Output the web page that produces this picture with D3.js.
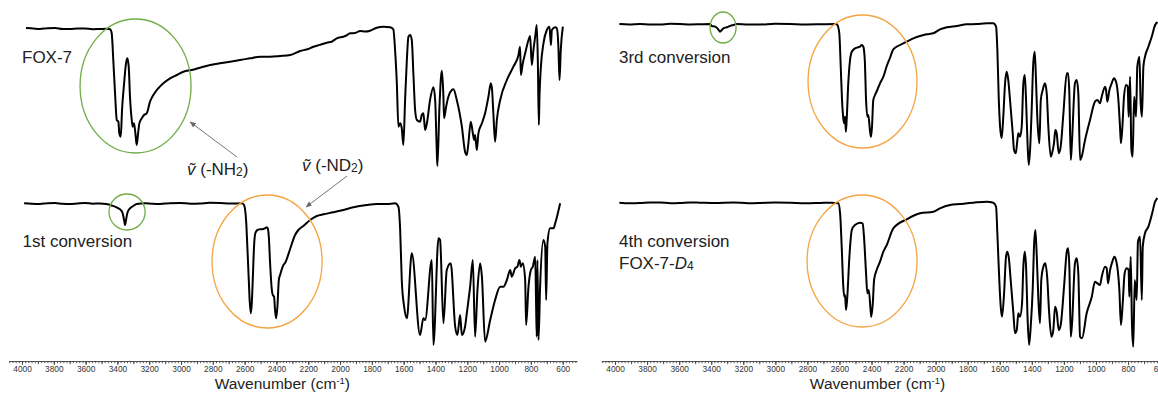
<!DOCTYPE html>
<html>
<head>
<meta charset="utf-8">
<script src="https://cdn.jsdelivr.net/npm/d3@7"></script>
<style>
  body { margin: 0; background: #fff; }
  svg { display: block; font-family: "Liberation Sans", Arial, sans-serif; }
</style>
</head>
<body>
<div id="chart"></div>
<script>
// IR spectra of FOX-7 and its deuterated conversions
// each point: [wavenumber (cm-1), transmittance (a.u.)]

var fox7 = [[3975,142],[3930,141.5],[3887,141],[3840,141.8],[3792,142],[3745,141],[3698,141],[3650,141.6],[3604,141.5],[3556,140.8],[3509,141],[3470,141.2],[3446,140.7],[3436,136.7],[3426,110],[3415,76.7],[3404,50],[3394,48.3],[3388,36.7],[3379,33.3],[3371,60],[3358,86.7],[3346,106.7],[3338,111.7],[3329,103.3],[3321,73.3],[3310,50],[3304,43.3],[3296,46.7],[3287,36.7],[3279,25],[3270,36.7],[3262,46.7],[3247,51.7],[3233,55],[3216,56.7],[3195,68.3],[3174,75],[3143,81.7],[3111,86.7],[3069,91.7],[3027,95],[2985,98.3],[2933,100],[2880,102.3],[2817,105],[2755,106.7],[2692,108.3],[2629,110],[2566,111.7],[2503,113.3],[2440,113.3],[2377,114],[2314,115],[2251,119],[2200,121],[2168,123.3],[2140,124.5],[2120,125.5],[2083,127.3],[2050,128.5],[2021,131.7],[1979,133.3],[1960,134.5],[1937,136.7],[1905,137],[1874,139],[1840,138.5],[1811,139.3],[1769,142.3],[1727,143.3],[1685,142.7],[1665,140.7],[1654,120],[1643,86.7],[1633,43.3],[1622,46.7],[1612,41.7],[1602,25],[1591,70],[1580,110],[1570,133.3],[1559,135],[1549,130],[1539,96.7],[1528,60],[1517,50],[1497,48.3],[1486,55],[1476,56.7],[1465,40],[1454,46.7],[1434,70],[1413,82.7],[1402,70],[1392,20],[1388,4],[1375,63.3],[1360,99.3],[1350,73.3],[1346,51.7],[1333,63.3],[1319,73.3],[1297,80],[1287,80.7],[1266,70],[1234,43.3],[1214,18.3],[1203,15],[1193,26.7],[1178,48.3],[1165,36.7],[1157,30],[1151,35],[1140,20],[1130,36.7],[1108,46.7],[1088,56.7],[1067,73.3],[1052,86.7],[1044,80],[1036,56.7],[1025,28.3],[1014,50],[993,70],[951,90],[910,103.3],[878,115],[868,123.3],[863,95],[851,106.7],[836,116.7],[815,130],[805,134],[794,105],[784,120],[773,133.3],[763,145],[756,106.7],[750,45],[746,73.3],[737,103.3],[721,126.7],[700,140],[683,143.3],[674,125],[668,140],[647,142.7],[637,141.7],[627,123.3],[620,90],[612,120],[599,143.3]];

var conv1 = [[3987,139.7],[3940,139.2],[3887,139],[3840,139.8],[3792,140],[3745,139.2],[3698,139],[3650,139.6],[3604,140],[3556,139.3],[3509,139.5],[3470,139],[3446,138],[3415,136.3],[3394,134.7],[3379,133],[3367,129.7],[3358,123],[3352,118],[3346,123],[3338,129.7],[3321,134.7],[3300,137],[3279,139],[3226,139.7],[3180,139.2],[3132,139],[3070,139.8],[3006,140],[2940,139.3],[2880,139.5],[2820,140.2],[2755,140],[2690,139.4],[2618,139.7],[2604,138],[2591,123],[2583,96.3],[2574,63],[2568,41.3],[2561,29.7],[2555,39.7],[2549,63],[2541,96.3],[2533,109.7],[2520,113],[2503,113.7],[2482,114],[2472,114.7],[2461,115.7],[2455,114.7],[2448,106.3],[2440,79.7],[2429,53],[2423,48],[2415,46.3],[2409,33],[2402,24.7],[2394,36.3],[2385,63],[2377,68],[2356,78],[2346,80],[2314,94],[2283,108],[2262,113],[2231,117],[2188,123],[2146,127],[2105,128.7],[2042,130.7],[1979,133],[1916,135.7],[1832,138],[1769,139],[1706,139],[1654,139.7],[1633,136.3],[1622,113],[1612,63],[1597,36.3],[1580,24.7],[1549,89.7],[1497,8],[1476,24.7],[1465,23],[1423,83],[1413,-2],[1381,104.7],[1371,103],[1350,19.7],[1329,73],[1304,79.7],[1276,16.3],[1262,8],[1245,28],[1234,8],[1214,16.3],[1203,29.7],[1182,56.3],[1165,83],[1151,6.3],[1136,53],[1119,79.7],[1108,66.3],[1088,1.3],[1056,23],[1025,43],[993,56.3],[973,56.3],[951,63],[930,73],[920,66.3],[899,74.7],[885,76.3],[872,83],[863,76.3],[851,79.7],[836,63],[830,18],[815,56.3],[800,73],[788,76.3],[773,86.3],[767,36.3],[763,6.3],[759,83],[752,3],[742,56.3],[721,103],[710,96.3],[704,43],[696,99.7],[679,114.7],[658,114.7],[647,119.7],[616,139.7]];

var conv3 = [[3973,146],[3910,145.6],[3844,146],[3780,145.4],[3719,145.5],[3655,146.2],[3595,146],[3530,145.5],[3470,145.7],[3407,146],[3397,144],[3376,143.3],[3356,140.7],[3345,138.3],[3334,140],[3324,141.7],[3303,142.7],[3283,144],[3262,145],[3241,146],[3170,145.4],[3095,145.5],[3000,146.2],[2908,146],[2815,145.5],[2721,145.7],[2621,146],[2613,145],[2601,136.7],[2592,103.3],[2584,70],[2576,51.7],[2570,46.7],[2565,53.3],[2560,38.3],[2555,50],[2545,86.7],[2534,110],[2523,118.3],[2503,121.7],[2472,123.3],[2461,125],[2451,123.3],[2442,110],[2434,70],[2426,53.3],[2420,55],[2409,38.3],[2403,33.3],[2397,43.3],[2389,70],[2378,75],[2364,80],[2347,86.7],[2326,93.3],[2305,104],[2285,112],[2264,120.7],[2222,125],[2180,128.3],[2139,131.7],[2097,134],[2056,135.7],[2014,136.7],[1973,140.7],[1931,142.7],[1868,144],[1806,145.7],[1744,146],[1681,146.7],[1640,146.7],[1623,143.3],[1615,120],[1606,70],[1598,43.3],[1588,31.7],[1578,53.3],[1567,86.7],[1557,98.3],[1547,90],[1536,70],[1519,36.7],[1511,20],[1500,16.7],[1490,30],[1484,36.7],[1474,33.3],[1463,43.3],[1453,86.7],[1444,95],[1436,70],[1426,23.3],[1419,5],[1411,20],[1401,60],[1391,106.7],[1382,118.3],[1374,90],[1366,53.3],[1353,26.7],[1344,70],[1332,80],[1318,86.7],[1307,76.7],[1297,43.3],[1282,13.3],[1274,16.7],[1262,26.7],[1253,40],[1245,36.7],[1232,16.7],[1220,23.3],[1203,56.7],[1182,96.7],[1174,96.7],[1166,76.7],[1157,10],[1149,30],[1131,86.7],[1120,90],[1110,76.7],[1099,10],[1089,13.3],[1068,30],[1037,50],[1006,68.3],[991,70],[975,66.7],[964,73.3],[943,83.3],[937,80],[929,68.3],[916,80],[902,86.7],[887,91.7],[879,90],[870,85],[860,70],[850,43.3],[844,26.7],[835,43.3],[825,73.3],[812,85],[802,83.3],[796,53.3],[787,93.3],[779,20],[771,13.3],[762,73.3],[750,53.3],[742,103.3],[729,113.3],[721,66.7],[713,53.3],[704,103.3],[694,113.3],[673,123.3],[652,133.3],[631,145],[616,148]];

var conv4 = [[3973,140.3],[3910,139.8],[3844,140],[3780,140.6],[3719,140.5],[3655,139.8],[3595,140],[3530,140.5],[3470,140.3],[3376,140],[3262,140.5],[3170,139.8],[3095,140],[3000,140.5],[2908,140.3],[2815,139.7],[2721,140],[2650,140.3],[2607,139.7],[2596,129.7],[2586,96.3],[2576,56.3],[2570,46.3],[2565,48],[2559,33],[2551,46.3],[2538,86.3],[2523,113],[2503,118],[2472,120.3],[2455,119.7],[2447,106.3],[2434,69.7],[2426,49.7],[2417,53],[2405,31.3],[2401,26.3],[2392,39.7],[2384,63],[2368,73],[2347,81.3],[2326,91.3],[2305,98],[2264,114.7],[2180,123.7],[2097,129.7],[2014,131.3],[1973,134.7],[1910,138],[1848,139],[1765,140.3],[1681,141.3],[1640,140.3],[1623,136.3],[1615,109.7],[1603,63],[1594,36.3],[1586,26.3],[1573,49.7],[1561,86.3],[1553,91.3],[1542,83],[1532,63],[1515,29.7],[1505,9.7],[1494,13],[1484,29.7],[1474,26.3],[1461,39.7],[1453,76.3],[1444,91.3],[1436,76.3],[1426,23],[1417,-2],[1407,16.3],[1394,56.3],[1386,98],[1378,113],[1369,86.3],[1359,43],[1349,19.7],[1341,63],[1328,76.3],[1316,79.7],[1303,63],[1293,33],[1278,6.3],[1266,13],[1255,36.3],[1245,31.3],[1232,13],[1220,18],[1199,56.3],[1182,91.3],[1174,94.7],[1166,76.3],[1157,6.3],[1149,19.7],[1131,79.7],[1120,84.7],[1110,69.7],[1099,6.3],[1087,4.7],[1058,29.7],[1026,46.3],[1006,61.3],[991,59.7],[975,58],[964,66.3],[943,76.3],[933,74.7],[925,59.7],[912,73],[898,81.3],[885,86.3],[875,83],[867,76.3],[854,53],[844,18],[833,39.7],[821,69.7],[808,74.7],[796,73],[792,46.3],[783,86.3],[775,16.3],[767,-3.7],[758,63],[746,43],[738,101.3],[725,106.3],[714,43],[708,96.3],[694,109.7],[673,116.3],[652,128],[631,141.3],[616,145]];

// labelled ticks
var tickLabels = [4000, 3800, 3600, 3400, 3200, 3000, 2800, 2600, 2400, 2200, 2000, 1800, 1600, 1400, 1200, 1000, 800, 600];

// band circles: [panel, row, wavenumber left, wavenumber right, T top, T bottom, group]
var bandRings = [
  [0, "top",    3635, 2937, 151, 17,  "NH"],
  [0, "bottom", 3453, 3226, 149, 113, "NH"],
  [0, "bottom", 2805, 2113, 148, 15,  "ND"],
  [1, "top",    3407, 3245, 158, 127, "NH"],
  [1, "top",    2796, 2116, 155, 22,  "ND"],
  [1, "bottom", 2802, 2116, 148, 16,  "ND"]
];

// arrows: [row, tail wavenumber, tail T, tip wavenumber, tip T]
var arrows = [
  ["top",    2648, 13,  2943, 48],
  ["bottom", 1956, 167, 2214, 136]
];

var svgWidth = 1158;
var svgHeight = 400;

var svg = d3.select("#chart")
  .append("svg")
  .attr("width", svgWidth)
  .attr("height", svgHeight);

var ringColor = { NH: "#70ad47", ND: "#f4a442" };

// two panels side by side, same wavenumber window
var xDomain = [4085, 510];
var xLeft = d3.scaleLinear().domain(xDomain).range([8.5, 577]);
var xRight = d3.scaleLinear().domain(xDomain).range([601.4, 1174.5]);
var xScales = [xLeft, xRight];

var yScales = {
  top: d3.scaleLinear().domain([0, 150]).range([170, 20]),
  bottom: d3.scaleLinear().domain([0, 150]).range([343, 193])
};

var axisY = 361;

xScales.forEach(function(x, i) {
  var g = svg.append("g").attr("transform", `translate(0, ${axisY})`);

  var minor = d3.axisBottom(x)
    .tickValues(d3.range(4080, 510, -20))
    .tickSize(2.2)
    .tickSizeOuter(0)
    .tickFormat("");
  var mid = d3.axisBottom(x)
    .tickValues(d3.range(4000, 510, -100))
    .tickSize(3.2)
    .tickSizeOuter(0)
    .tickFormat("");
  var major = d3.axisBottom(x)
    .tickValues(tickLabels)
    .tickSize(4)
    .tickSizeOuter(0)
    .tickPadding(1.5)
    .tickFormat(d3.format("d"));

  g.append("g").call(minor);
  g.append("g").call(mid).select(".domain").remove();
  g.append("g").call(major).select(".domain").remove();

  g.selectAll("path, line").attr("stroke", "#444").attr("stroke-width", 0.9);
  g.selectAll("text")
    .attr("font-family", "Liberation Sans, Arial, sans-serif")
    .attr("font-size", 8.3)
    .attr("fill", "#333");

  // axis title
  var t = svg.append("text")
    .attr("x", (x(4000) + x(600)) / 2 - 10)
    .attr("y", 389)
    .attr("text-anchor", "middle")
    .attr("font-size", 15.5)
    .attr("fill", "#222");
  t.append("tspan").text("Wavenumber (cm");
  t.append("tspan").attr("font-size", 9.5).attr("dy", -5.5).text("-1");
  t.append("tspan").attr("dy", 5.5).text(")");
});

// spectra
var traces = [
  { data: fox7,  x: xLeft,  row: "top" },
  { data: conv1, x: xLeft,  row: "bottom" },
  { data: conv3, x: xRight, row: "top" },
  { data: conv4, x: xRight, row: "bottom" }
];

traces.forEach(function(tr) {
  var y = yScales[tr.row];
  var line = d3.line()
    .x(d => tr.x(d[0]))
    .y(d => y(d[1]))
    .curve(d3.curveMonotoneX);
  svg.append("path")
    .datum(tr.data)
    .attr("d", line)
    .attr("fill", "none")
    .attr("stroke", "#000")
    .attr("stroke-width", 2)
    .attr("stroke-linejoin", "round");
});

// rings round the N-H / N-D bands
svg.selectAll("ellipse")
  .data(bandRings)
  .enter()
  .append("ellipse")
  .attr("cx", d => (xScales[d[0]](d[2]) + xScales[d[0]](d[3])) / 2)
  .attr("cy", d => (yScales[d[1]](d[4]) + yScales[d[1]](d[5])) / 2)
  .attr("rx", d => Math.abs(xScales[d[0]](d[3]) - xScales[d[0]](d[2])) / 2)
  .attr("ry", d => Math.abs(yScales[d[1]](d[5]) - yScales[d[1]](d[4])) / 2)
  .attr("fill", "none")
  .attr("stroke", d => ringColor[d[6]])
  .attr("stroke-width", 1.3);

// arrow heads
svg.append("defs").append("marker")
  .attr("id", "head")
  .attr("viewBox", "0 0 10 10")
  .attr("refX", 9)
  .attr("refY", 5)
  .attr("markerWidth", 7)
  .attr("markerHeight", 7)
  .attr("orient", "auto")
  .append("path")
  .attr("d", "M0,1 L10,5 L0,9 z")
  .attr("fill", "#666");

svg.selectAll(".arrow")
  .data(arrows)
  .enter()
  .append("line")
  .attr("class", "arrow")
  .attr("x1", d => xLeft(d[1]))
  .attr("y1", d => yScales[d[0]](d[2]))
  .attr("x2", d => xLeft(d[3]))
  .attr("y2", d => yScales[d[0]](d[4]))
  .attr("stroke", "#666")
  .attr("stroke-width", 0.9)
  .attr("marker-end", "url(#head)");

// sample labels
function label(x, y) {
  return svg.append("text")
    .attr("x", x)
    .attr("y", y)
    .attr("font-size", 17)
    .attr("fill", "#222");
}

label(22, 63).text("FOX-7");
label(22.5, 247).text("1st conversion");
label(619, 62.5).text("3rd conversion");
label(619, 246.5).text("4th conversion");

var d4 = label(619, 269);
d4.append("tspan").text("FOX-7-");
d4.append("tspan").attr("font-style", "italic").text("D");
d4.append("tspan").attr("font-size", 12).attr("dy", 1).text("4");

// band labels
function bandLabel(x, y, group) {
  var t = label(x, y);
  t.append("tspan").attr("font-style", "italic").text("v\u0303");
  t.append("tspan").text(" (-N" + group);
  t.append("tspan").attr("font-size", 12).attr("dy", 1).text("2");
  t.append("tspan").attr("dy", -1).text(")");
}

bandLabel(187, 175, "H");
bandLabel(302, 171, "D");
</script>
</body>
</html>
